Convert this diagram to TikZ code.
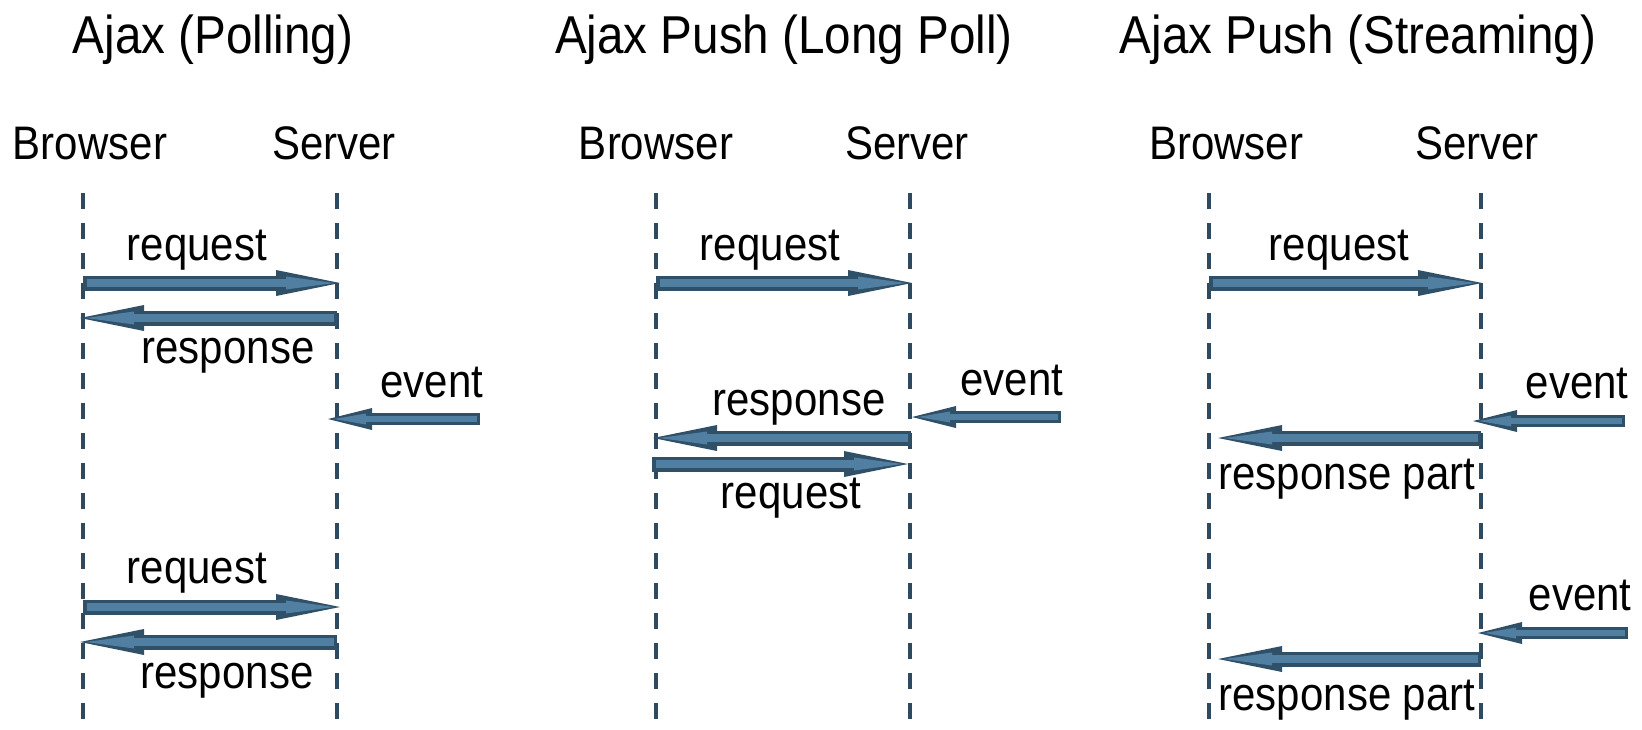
\documentclass[tikz,border=0pt]{standalone}
\usepackage{fontspec}
\setmainfont{Liberation Sans}
\usepackage{graphicx}
\usetikzlibrary{arrows.meta}
\definecolor{lifec}{RGB}{47,74,95}
\definecolor{arredge}{RGB}{48,80,104}
\definecolor{arrfill}{RGB}{80,127,162}
\newcommand\vst[1]{\scalebox{1}[1.12]{#1}}
\begin{document}
\begin{tikzpicture}[x=0.5pt,y=-0.5pt,
 lbl/.style={font=\fontsize{21pt}{25pt}\selectfont, inner sep=0pt, anchor=base},
 ttl/.style={font=\fontsize{23.8pt}{28pt}\selectfont, inner sep=0pt, anchor=base},
 lifeline/.style={draw=lifec, line width=1.9pt, dash pattern=on 8pt off 7pt, dash phase=-2.5pt},
 bigarr/.style={draw=arrfill, line width=4pt, shorten <=1.75pt, shorten >=3pt,
   -{Triangle[length=24pt,width=6.5pt,line width=0pt]},
   preaction={draw=arredge, line width=7.5pt, shorten <=0pt, shorten >=0pt,
   -{Triangle[length=32pt,width=13pt,line width=0pt]}}},
 smallarr/.style={draw=arrfill, line width=3pt, shorten <=1.5pt, shorten >=3pt,
   -{Triangle[length=16pt,width=5.5pt,line width=0pt]},
   preaction={draw=arredge, line width=6pt, shorten <=0pt, shorten >=0pt,
   -{Triangle[length=22pt,width=11pt,line width=0pt]}}}
]
\useasboundingbox (0,0) rectangle (1642,729);

% titles
\node[ttl] (t1) at (213,53) {\vst{Ajax (Polling)}};
\node[ttl] (t2) at (784,53) {\vst{Ajax Push (Long Poll)}};
\node[ttl] (t3) at (1358,53) {\vst{Ajax Push (Streaming)}};

% headers
\node[lbl] (b1) at (90,159) {\vst{Browser}};
\node[lbl] (s1) at (334,159) {\vst{Server}};
\node[lbl] (b2) at (656,159) {\vst{Browser}};
\node[lbl] (s2) at (907,159) {\vst{Server}};
\node[lbl] (b3) at (1226,159) {\vst{Browser}};
\node[lbl] (s3) at (1477,159) {\vst{Server}};

% lifelines
\coordinate (lb1t) at (83,188);   \coordinate (lb1b) at (83,729);
\coordinate (ls1t) at (337,188);  \coordinate (ls1b) at (337,729);
\coordinate (lb2t) at (656,188);  \coordinate (lb2b) at (656,729);
\coordinate (ls2t) at (910,188);  \coordinate (ls2b) at (910,729);
\coordinate (lb3t) at (1209,188); \coordinate (lb3b) at (1209,729);
\coordinate (ls3t) at (1481,188); \coordinate (ls3b) at (1481,729);
\foreach \a/\b in {lb1t/lb1b, ls1t/ls1b, lb2t/lb2b, ls2t/ls2b, lb3t/lb3b, ls3t/ls3b}
  \draw[lifeline] (\a) -- (\b);

% ---- Polling ----
\coordinate (p1a) at (83,283);  \coordinate (p1b) at (340,283);
\coordinate (p2a) at (337,318); \coordinate (p2b) at (80,318);
\coordinate (p3a) at (480,419); \coordinate (p3b) at (328,419);
\coordinate (p4a) at (83,607);  \coordinate (p4b) at (340,607);
\coordinate (p5a) at (337,642); \coordinate (p5b) at (80,642);
\draw[bigarr] (p1a) -- (p1b);
\draw[bigarr] (p2a) -- (p2b);
\draw[smallarr] (p3a) -- (p3b);
\draw[bigarr] (p4a) -- (p4b);
\draw[bigarr] (p5a) -- (p5b);
\node[lbl] (pl1) at (197,260) {\vst{request}};
\node[lbl] (pl2) at (228,363) {\vst{response}};
\node[lbl] (pl3) at (432,397) {\vst{event}};
\node[lbl] (pl4) at (197,583) {\vst{request}};
\node[lbl] (pl5) at (227,688) {\vst{response}};

% ---- Long poll ----
\coordinate (q1a) at (656,283);  \coordinate (q1b) at (912,283);
\coordinate (q2a) at (1061,417); \coordinate (q2b) at (912,417);
\coordinate (q3a) at (911,438);  \coordinate (q3b) at (653,438);
\coordinate (q4a) at (652,464);  \coordinate (q4b) at (908,464);
\draw[bigarr] (q1a) -- (q1b);
\draw[smallarr] (q2a) -- (q2b);
\draw[bigarr] (q3a) -- (q3b);
\draw[bigarr] (q4a) -- (q4b);
\node[lbl] (ql1) at (770,260) {\vst{request}};
\node[lbl] (ql2) at (1012,395) {\vst{event}};
\node[lbl] (ql3) at (799,415) {\vst{response}};
\node[lbl] (ql4) at (791,508) {\vst{request}};

% ---- Streaming ----
\coordinate (r1a) at (1209,283); \coordinate (r1b) at (1482,283);
\coordinate (r2a) at (1625,421); \coordinate (r2b) at (1473,421);
\coordinate (r3a) at (1481,438); \coordinate (r3b) at (1218,438);
\coordinate (r4a) at (1628,633); \coordinate (r4b) at (1478,633);
\coordinate (r5a) at (1481,659); \coordinate (r5b) at (1218,659);
\draw[bigarr] (r1a) -- (r1b);
\draw[smallarr] (r2a) -- (r2b);
\draw[bigarr] (r3a) -- (r3b);
\draw[smallarr] (r4a) -- (r4b);
\draw[bigarr] (r5a) -- (r5b);
\node[lbl] (rl1) at (1339,260) {\vst{request}};
\node[lbl] (rl2) at (1577,398) {\vst{event}};
\node[lbl] (rl3) at (1347,489) {\vst{response part}};
\node[lbl] (rl4) at (1580,610) {\vst{event}};
\node[lbl] (rl5) at (1347,710) {\vst{response part}};
\end{tikzpicture}
\end{document}
